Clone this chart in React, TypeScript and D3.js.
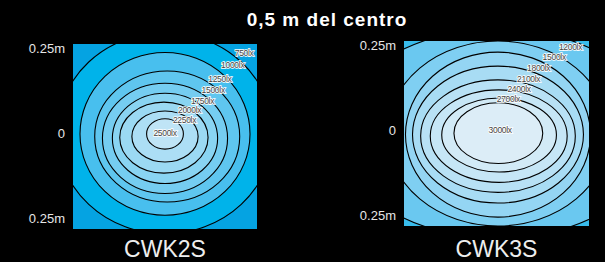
import React from "react";
import * as d3 from "d3";

const W = 605;
const H = 262;

// CWK2S contour rings, outer to inner (metres from the centre)
const cwk2Rx = [0.293, 0.231, 0.197, 0.17, 0.143, 0.12, 0.09, 0.05];
const cwk2Ry = [0.272, 0.22, 0.177, 0.149, 0.122, 0.096, 0.069, 0.041];
const cwk2Cx = [0, 0, 0.006, 0, 0, -0.003, 0, 0];
const cwk2Cy = [0.009, 0.007, 0, -0.005, -0.005, -0.003, 0, 0.007];
const cwk2Labels = ["750lx", "1000lx", "1250lx", "1500lx", "1750lx", "2000lx", "2250lx", "2500lx"];
const cwk2LabelX = [0.215, 0.184, 0.149, 0.131, 0.102, 0.067, 0.053, 0];
const cwk2LabelY = [0.226, 0.192, 0.156, 0.125, 0.095, 0.072, 0.045, 0.01];
const cwk2Colors = ["#05a3e2", "#00b3ea", "#48bfee", "#5fc6ef", "#75cdf1", "#89d4f2", "#9bd9f3", "#acdef5", "#bfe4f6"];

// CWK3S contour rings
const cwk3Rx = [0.43, 0.299, 0.25, 0.231, 0.209, 0.185, 0.155, 0.12];
const cwk3Ry = [0.283, 0.25, 0.223, 0.185, 0.152, 0.125, 0.1, 0.082];
const cwk3Cx = [0.004, 0.004, 0.004, 0.004, 0.004, 0.006, 0.007, 0.005];
const cwk3Cy = [0, 0, -0.003, -0.003, -0.007, -0.007, -0.004, 0.001];
const cwk3Labels = ["1200lx", "1500lx", "1800lx", "2100lx", "2400lx", "2700lx", "3000lx"];
const cwk3LabelX = [0.2, 0.156, 0.114, 0.087, 0.061, 0.032, 0.01];
const cwk3LabelY = [0.234, 0.206, 0.177, 0.148, 0.12, 0.093, 0.01];
const cwk3Colors = ["#38bcec", "#6ac8f0", "#7fcff2", "#94d5f3", "#a8dcf4", "#b8e1f5", "#c6e6f6", "#d2eaf6", "#dcedf7"];

const yTicks = [0.25, 0, -0.25];
const tickText = (v: number) => (v === 0 ? "0" : Math.abs(v) + "m");

const font = "'Liberation Sans', Arial, Helvetica, sans-serif";

function Panel({ id, name, x0, x1, y0, y1, rx, ry, cx, cy, labels, lx, ly, colors }: any) {
  const x = d3.scaleLinear().domain([-0.25, 0.25]).range([x0, x1]);
  const y = d3.scaleLinear().domain([0.25, -0.25]).range([y0, y1]);
  const k = (x1 - x0) / 0.5;
  const ky = (y1 - y0) / 0.5;
  return (
    <g>
      <defs>
        <clipPath id={id}>
          <rect x={x0} y={y0} width={x1 - x0} height={y1 - y0} />
        </clipPath>
      </defs>
      <g clipPath={`url(#${id})`}>
        <rect x={x0} y={y0} width={x1 - x0} height={y1 - y0} fill={colors[0]} />
        {rx.map((r: number, i: number) => (
          <ellipse key={"f" + i} cx={x(cx[i])} cy={y(cy[i])} rx={r * k} ry={ry[i] * ky} fill={colors[i + 1]} />
        ))}
        {rx.map((r: number, i: number) => (
          <ellipse key={"s" + i} cx={x(cx[i])} cy={y(cy[i])} rx={r * k} ry={ry[i] * ky} fill="none" stroke="#000" strokeWidth={1.1} />
        ))}
      </g>
      {labels.map((t: string, i: number) => (
        <text key={t} x={x(lx[i])} y={y(ly[i])} dy="0.35em" textAnchor="middle" fontFamily={font} fontSize={8.5}
          fill="#444" stroke="#fff" strokeWidth={1.6} paintOrder="stroke" letterSpacing={-0.3}>{t}</text>
      ))}
      {yTicks.map((v) => (
        <text key={v} x={x0 - 8} y={y(v) + (v > 0 ? 4 : v < 0 ? -11 : -3)} dy="0.35em" textAnchor="end" fontFamily={font}
          fontSize={13} fill="#e6e6e6">{tickText(v)}</text>
      ))}
      <text x={x(0)} y={256.5} textAnchor="middle" fontFamily={font} fontSize={23} fill="#eeeeee">{name}</text>
    </g>
  );
}

export default function App() {
  return (
    <svg width={W} height={H} style={{ position: "fixed", left: 0, top: 0, background: "#000" }}>
      <rect width={W} height={H} fill="#000" />
      <text x={327} y={26} textAnchor="middle" fontFamily={font} fontSize={19} fontWeight="bold" letterSpacing={1}
        fill="#fff">0,5 m del centro</text>
      <Panel id="c2" name="CWK2S" x0={73} x1={257} y0={44} y1={229} rx={cwk2Rx} ry={cwk2Ry} cx={cwk2Cx} cy={cwk2Cy}
        labels={cwk2Labels} lx={cwk2LabelX} ly={cwk2LabelY} colors={cwk2Colors} />
      <Panel id="c3" name="CWK3S" x0={404} x1={589} y0={41} y1={226} rx={cwk3Rx} ry={cwk3Ry} cx={cwk3Cx} cy={cwk3Cy}
        labels={cwk3Labels} lx={cwk3LabelX} ly={cwk3LabelY} colors={cwk3Colors} />
    </svg>
  );
}
